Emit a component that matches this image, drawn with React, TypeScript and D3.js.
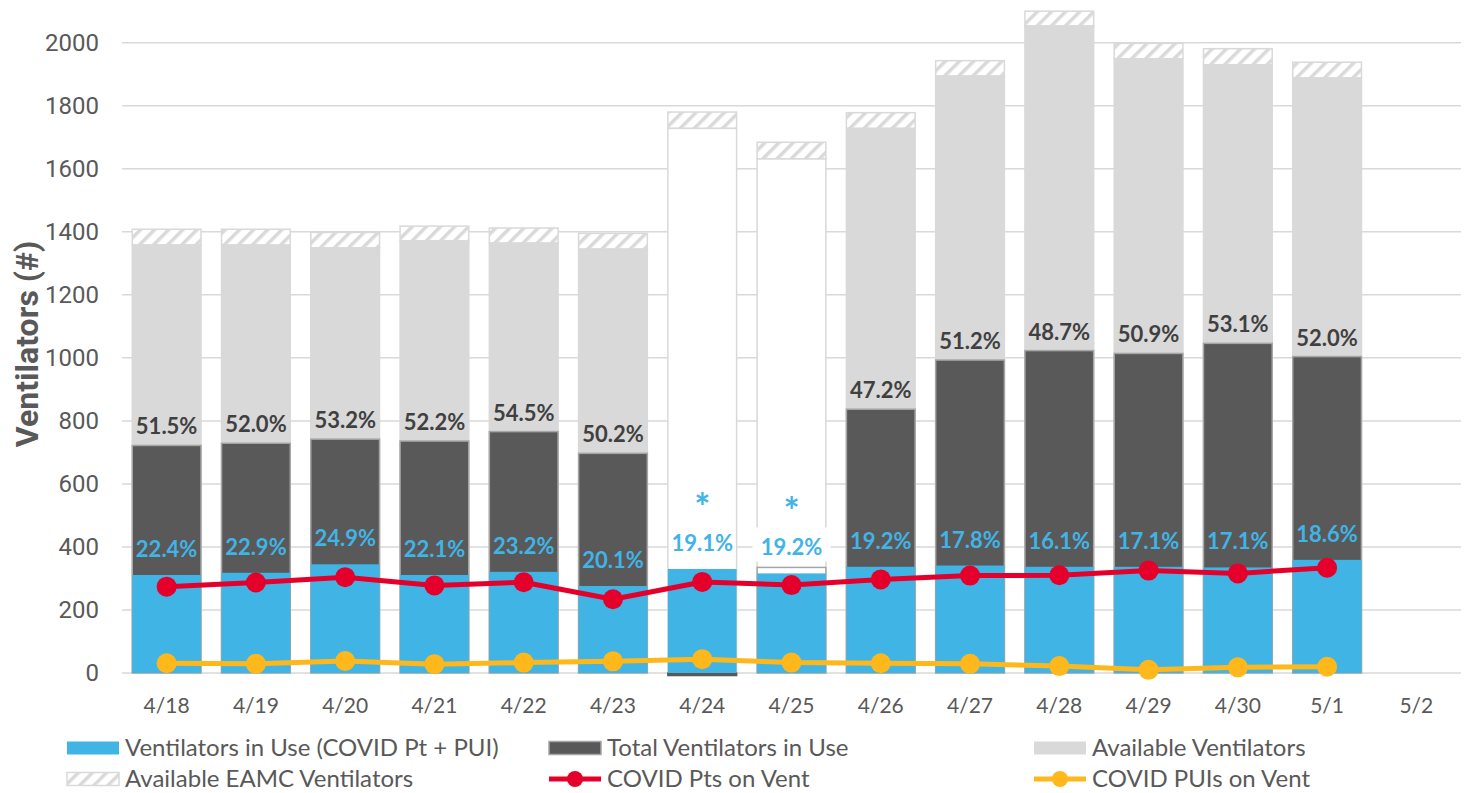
import React, { useEffect, useRef } from 'react';
import * as d3 from 'd3';

const dates = ['4/18', '4/19', '4/20', '4/21', '4/22', '4/23', '4/24', '4/25', '4/26', '4/27', '4/28', '4/29', '4/30', '5/1', '5/2'];

// Ventilators in use by COVID patients + PUIs
const covidInUse = [311, 318, 345, 311, 321, 276, 330, 316, 337, 341, 337, 337, 335, 359];
// Total ventilators in use (4/24 reported as a small negative / missing)
const totalInUse = [722, 729, 742, 736, 766, 697, -8, 335, 837, 993, 1023, 1014, 1046, 1004];
// In use + available ventilators (top of the grey bar)
const ventCapacity = [1358, 1358, 1349, 1371, 1364, 1345, 1728, 1631, 1728, 1894, 2053, 1949, 1930, 1888];
// Extra EAMC ventilators stacked on top
const eamcVents = [50, 50, 49, 47, 48, 50, 52, 53, 50, 49, 47, 49, 51, 50];

const covidPts = [274, 287, 304, 278, 288, 234, 289, 279, 297, 309, 310, 325, 316, 334];
const covidPuis = [31, 29, 38, 28, 33, 37, 44, 33, 31, 29, 22, 10, 18, 20];

const pctTotal = ['51.5%', '52.0%', '53.2%', '52.2%', '54.5%', '50.2%', '', '', '47.2%', '51.2%', '48.7%', '50.9%', '53.1%', '52.0%'];
const pctCovid = ['22.4%', '22.9%', '24.9%', '22.1%', '23.2%', '20.1%', '19.1%', '19.2%', '19.2%', '17.8%', '16.1%', '17.1%', '17.1%', '18.6%'];

// days where total in use was not reported
const missingDays = ['4/24', '4/25'];

const yTicks = [0, 200, 400, 600, 800, 1000, 1200, 1400, 1600, 1800, 2000];

const BLUE = '#41B4E6';
const DARK = '#595959';
const LIGHT = '#D9D9D9';
const RED = '#E4002B';
const ORANGE = '#FFB81C';

const App: React.FC = () => {
  const svgRef = useRef<SVGSVGElement>(null);

  useEffect(() => {
    document.body.style.margin = '0';
    if (!svgRef.current) return;
    const width = 1465;
    const height = 793;

    const svg = d3.select(svgRef.current);
    svg.selectAll('*').remove();
    svg.attr('width', width).attr('height', height).style('display', 'block').style('background', '#fff');

    const x = d3
      .scaleBand<string>()
      .domain(dates)
      .range([122, 1461])
      .paddingInner(0.23)
      .paddingOuter(0.115);
    const y = d3.scaleLinear().domain([0, 2000]).range([673, 42.7]);
    const cx = (d: string) => (x(d) || 0) + x.bandwidth() / 2;

    // hatch pattern
    const defs = svg.append('defs');
    const pat = defs
      .append('pattern')
      .attr('id', 'hatch')
      .attr('patternUnits', 'userSpaceOnUse')
      .attr('width', 10)
      .attr('height', 10)
      .attr('patternTransform', 'rotate(45)');
    pat.append('rect').attr('width', 10).attr('height', 10).attr('fill', '#fff');
    pat.append('rect').attr('width', 3.5).attr('height', 10).attr('fill', LIGHT);

    // gridlines
    svg
      .append('g')
      .selectAll('line')
      .data(yTicks)
      .enter()
      .append('line')
      .attr('x1', 122)
      .attr('x2', 1461)
      .attr('y1', (d) => y(d))
      .attr('y2', (d) => y(d))
      .attr('stroke', LIGHT)
      .attr('stroke-width', 1.5);

    // y tick labels
    svg
      .append('g')
      .selectAll('text')
      .data(yTicks)
      .enter()
      .append('text')
      .attr('x', 99)
      .attr('y', (d) => y(d))
      .attr('dy', '0.35em')
      .attr('text-anchor', 'end')
      .style('font-family', 'Roboto, sans-serif')
      .style('font-size', '24px')
      .style('fill', DARK)
      .text((d) => d);

    // x labels
    svg
      .append('g')
      .selectAll('text')
      .data(dates)
      .enter()
      .append('text')
      .attr('x', (d) => cx(d))
      .attr('y', 713)
      .attr('text-anchor', 'middle')
      .style('font-family', 'Lato, sans-serif')
      .style('font-size', '21px')
      .style('fill', DARK)
      .text((d) => d);

    // y title
    svg
      .append('text')
      .attr('transform', 'translate(38,344) rotate(-90)')
      .attr('text-anchor', 'middle')
      .style('font-family', 'Roboto, sans-serif')
      .style('font-size', '32px')
      .style('font-weight', '700')
      .style('fill', DARK)
      .text('Ventilators (#)');

    const bw = x.bandwidth();
    const bars = svg.append('g');
    covidInUse.forEach((_, i) => {
      const d = dates[i];
      const x0 = x(d) || 0;
      const missing = missingDays.includes(d);
      const cap = ventCapacity[i];
      // EAMC hatched
      bars
        .append('rect')
        .attr('x', x0)
        .attr('width', bw)
        .attr('y', y(cap + eamcVents[i]))
        .attr('height', y(cap) - y(cap + eamcVents[i]))
        .attr('fill', 'url(#hatch)')
        .attr('stroke', LIGHT)
        .attr('stroke-width', 1.5);
      // available
      bars
        .append('rect')
        .attr('x', x0)
        .attr('width', bw)
        .attr('y', y(cap))
        .attr('height', y(0) - y(cap))
        .attr('fill', missing ? '#fff' : LIGHT)
        .attr('stroke', LIGHT)
        .attr('stroke-width', 1.5);
      // total in use
      const t = totalInUse[i];
      bars
        .append('rect')
        .attr('x', x0)
        .attr('width', bw)
        .attr('y', y(Math.max(t, 0)))
        .attr('height', Math.abs(y(t) - y(0)))
        .attr('fill', missing && t > 0 ? '#fff' : DARK)
        .attr('stroke', missing && t < 0 ? DARK : '#A5A5A5')
        .attr('stroke-width', 1.5);
      // covid in use
      bars
        .append('rect')
        .attr('x', x0)
        .attr('width', bw)
        .attr('y', y(covidInUse[i]))
        .attr('height', y(0) - y(covidInUse[i]))
        .attr('fill', BLUE);
    });

    // lines
    const drawLine = (vals: number[], color: string) => {
      const line = d3
        .line<number>()
        .x((_, i) => cx(dates[i]))
        .y((v) => y(v));
      svg
        .append('path')
        .attr('d', line(vals) || '')
        .attr('fill', 'none')
        .attr('stroke', color)
        .attr('stroke-width', 5)
        .attr('stroke-linejoin', 'round');
      svg
        .append('g')
        .selectAll('circle')
        .data(vals)
        .enter()
        .append('circle')
        .attr('cx', (_, i) => cx(dates[i]))
        .attr('cy', (v) => y(v))
        .attr('r', 10)
        .attr('fill', color);
    };
    drawLine(covidPts, RED);
    drawLine(covidPuis, ORANGE);

    // data labels
    const labels = svg.append('g').style('font-family', 'Lato, sans-serif').style('font-weight', '700');
    pctTotal.forEach((p, i) => {
      if (!p) return;
      labels
        .append('text')
        .attr('x', cx(dates[i]))
        .attr('y', y(totalInUse[i]) - 11)
        .attr('text-anchor', 'middle')
        .style('font-size', '22px')
        .style('fill', '#404040')
        .text(p);
    });
    pctCovid.forEach((p, i) => {
      const d = dates[i];
      const by = y(covidInUse[i]) - 18;
      if (missingDays.includes(d)) {
        if (totalInUse[i] > 0) {
          labels
            .append('rect')
            .attr('x', cx(d) - 39)
            .attr('y', by - 28)
            .attr('width', 78)
            .attr('height', 34)
            .attr('fill', '#fff');
        }
        labels
          .append('text')
          .attr('x', cx(d))
          .attr('y', by - 30)
          .attr('text-anchor', 'middle')
          .style('font-size', '38px')
          .style('fill', BLUE)
          .text('*');
      }
      labels
        .append('text')
        .attr('x', cx(d))
        .attr('y', by)
        .attr('text-anchor', 'middle')
        .style('font-size', '22px')
        .style('fill', BLUE)
        .text(p);
    });

    // legend
    const legend = svg.append('g');
    const items = [
      { label: 'Ventilators in Use (COVID Pt + PUI)', kind: 'bar', fill: BLUE, stroke: 'none', col: 67, row: 748 },
      { label: 'Total Ventilators in Use', kind: 'bar', fill: DARK, stroke: '#A5A5A5', col: 549, row: 748 },
      { label: 'Available Ventilators', kind: 'bar', fill: LIGHT, stroke: 'none', col: 1034, row: 748 },
      { label: 'Available EAMC Ventilators', kind: 'bar', fill: 'url(#hatch)', stroke: LIGHT, col: 67, row: 779 },
      { label: 'COVID Pts on Vent', kind: 'line', fill: RED, stroke: RED, col: 549, row: 779 },
      { label: 'COVID PUIs on Vent', kind: 'line', fill: ORANGE, stroke: ORANGE, col: 1034, row: 779 },
    ];
    items.forEach((it) => {
      if (it.kind === 'bar') {
        legend
          .append('rect')
          .attr('x', it.col)
          .attr('y', it.row - 6.5)
          .attr('width', 52)
          .attr('height', 13)
          .attr('fill', it.fill)
          .attr('stroke', it.stroke)
          .attr('stroke-width', 1.5);
      } else {
        legend
          .append('line')
          .attr('x1', it.col)
          .attr('x2', it.col + 52)
          .attr('y1', it.row)
          .attr('y2', it.row)
          .attr('stroke', it.stroke)
          .attr('stroke-width', 5);
        legend
          .append('circle')
          .attr('cx', it.col + 26)
          .attr('cy', it.row)
          .attr('r', 8)
          .attr('fill', it.fill);
      }
      legend
        .append('text')
        .attr('x', it.col + 58)
        .attr('y', it.row)
        .attr('dy', '0.35em')
        .style('font-family', 'Lato, sans-serif')
        .style('font-size', '24px')
        .style('fill', DARK)
        .text(it.label);
    });
  }, []);

  return <svg ref={svgRef}></svg>;
};

export default App;
